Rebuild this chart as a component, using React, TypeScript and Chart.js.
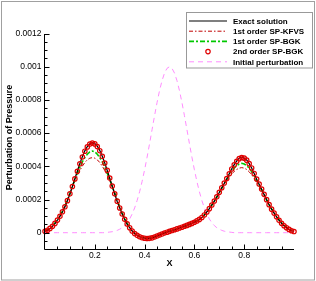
import React, { useEffect, useRef } from "react";
import { Chart, registerables } from "chart.js";

Chart.register(...registerables);

// values are given in units of 1e-4
const PRESSURE_UNIT = 1e-4;
const xPositions = Array.from({ length: 101 }, (_, i) => i / 100);

const exactSolution = [
  0.08, 0.15, 0.25, 0.38, 0.55, 0.75, 0.98, 1.25, 1.55, 1.92,
  2.33, 2.78, 3.25, 3.72, 4.17, 4.58, 4.93, 5.19, 5.36, 5.42,
  5.37, 5.21, 4.95, 4.61, 4.2, 3.75, 3.28, 2.8, 2.33, 1.88,
  1.48, 1.12, 0.8, 0.52, 0.3, 0.1, -0.05, -0.15, -0.24, -0.3,
  -0.33, -0.34, -0.34, -0.31, -0.26, -0.2, -0.14, -0.08, -0.02, 0.03,
  0.08, 0.13, 0.18, 0.23, 0.28, 0.33, 0.38, 0.44, 0.5, 0.56,
  0.63, 0.7, 0.8, 0.92, 1.07, 1.25, 1.45, 1.67, 1.9, 2.15,
  2.42, 2.7, 2.98, 3.25, 3.55, 3.85, 4.1, 4.32, 4.48, 4.55,
  4.5, 4.38, 4.16, 3.9, 3.56, 3.22, 2.92, 2.62, 2.3, 1.98,
  1.68, 1.42, 1.18, 0.95, 0.75, 0.57, 0.42, 0.3, 0.2, 0.12,
  0.07,
];

const kfvsFirstOrder = [
  0.1, 0.18, 0.28, 0.42, 0.6, 0.8, 1.04, 1.32, 1.63, 1.98,
  2.36, 2.76, 3.12, 3.45, 3.75, 4.01, 4.23, 4.39, 4.49, 4.52,
  4.49, 4.39, 4.23, 4.01, 3.75, 3.45, 3.12, 2.78, 2.4, 2.0,
  1.6, 1.22, 0.88, 0.58, 0.34, 0.14, -0.02, -0.13, -0.21, -0.27,
  -0.3, -0.31, -0.31, -0.29, -0.25, -0.2, -0.14, -0.08, -0.02, 0.03,
  0.08, 0.13, 0.18, 0.23, 0.28, 0.33, 0.38, 0.44, 0.5, 0.56,
  0.63, 0.71, 0.81, 0.93, 1.08, 1.25, 1.45, 1.67, 1.9, 2.15,
  2.42, 2.68, 2.93, 3.16, 3.36, 3.54, 3.69, 3.81, 3.89, 3.92,
  3.89, 3.81, 3.67, 3.49, 3.28, 3.05, 2.8, 2.54, 2.26, 1.97,
  1.69, 1.43, 1.2, 0.98, 0.78, 0.6, 0.45, 0.33, 0.23, 0.15,
  0.09,
];

const bgkFirstOrder = [
  0.09, 0.17, 0.27, 0.4, 0.58, 0.78, 1.01, 1.29, 1.6, 1.96,
  2.36, 2.8, 3.2, 3.6, 3.95, 4.27, 4.53, 4.73, 4.87, 4.92,
  4.87, 4.73, 4.53, 4.27, 3.95, 3.6, 3.2, 2.8, 2.37, 1.94,
  1.54, 1.17, 0.84, 0.55, 0.32, 0.12, -0.03, -0.14, -0.22, -0.28,
  -0.31, -0.32, -0.32, -0.3, -0.25, -0.2, -0.14, -0.08, -0.02, 0.03,
  0.08, 0.13, 0.18, 0.23, 0.28, 0.33, 0.38, 0.44, 0.5, 0.56,
  0.63, 0.7, 0.8, 0.92, 1.07, 1.25, 1.45, 1.67, 1.9, 2.15,
  2.42, 2.69, 2.96, 3.22, 3.47, 3.7, 3.9, 4.05, 4.14, 4.18,
  4.14, 4.05, 3.89, 3.68, 3.44, 3.16, 2.88, 2.59, 2.29, 1.98,
  1.69, 1.43, 1.19, 0.97, 0.77, 0.59, 0.44, 0.32, 0.21, 0.13,
  0.08,
];

const bgkSecondOrder = [
  0.08, 0.15, 0.26, 0.39, 0.56, 0.76, 0.99, 1.26, 1.56, 1.93,
  2.34, 2.78, 3.24, 3.7, 4.15, 4.56, 4.91, 5.17, 5.34, 5.4,
  5.35, 5.19, 4.94, 4.6, 4.2, 3.76, 3.29, 2.81, 2.34, 1.9,
  1.49, 1.13, 0.81, 0.53, 0.3, 0.1, -0.05, -0.16, -0.24, -0.3,
  -0.33, -0.35, -0.34, -0.31, -0.26, -0.2, -0.14, -0.08, -0.02, 0.03,
  0.08, 0.13, 0.18, 0.23, 0.28, 0.33, 0.39, 0.44, 0.5, 0.56,
  0.63, 0.71, 0.8, 0.92, 1.07, 1.25, 1.45, 1.67, 1.91, 2.16,
  2.43, 2.71, 2.99, 3.26, 3.55, 3.84, 4.09, 4.3, 4.46, 4.53,
  4.49, 4.37, 4.16, 3.9, 3.57, 3.23, 2.93, 2.63, 2.31, 1.99,
  1.69, 1.42, 1.18, 0.96, 0.75, 0.57, 0.42, 0.3, 0.2, 0.12,
  0.07,
];

const initialPerturbation = [
  0, 0, 0, 0, 0, 0, 0, 0, 0, 0,
  0, 0, 0, 0, 0, 0, 0, 0, 0, 0,
  0, 0, 0, 0, 0, 0.02, 0.04, 0.06, 0.09, 0.14,
  0.21, 0.3, 0.43, 0.6, 0.83, 1.13, 1.49, 1.94, 2.47, 3.09,
  3.79, 4.55, 5.37, 6.21, 7.05, 7.84, 8.56, 9.16, 9.62, 9.9,
  10.0, 9.9, 9.62, 9.16, 8.56, 7.84, 7.05, 6.21, 5.37, 4.55,
  3.79, 3.09, 2.47, 1.94, 1.49, 1.13, 0.83, 0.6, 0.43, 0.3,
  0.21, 0.14, 0.09, 0.06, 0.04, 0.02, 0, 0, 0, 0,
  0, 0, 0, 0, 0, 0, 0, 0, 0, 0,
  0, 0, 0, 0, 0, 0, 0, 0, 0, 0,
  0,
];

const seriesLabels = [
  "Exact solution",
  "1st order SP-KFVS",
  "1st order SP-BGK",
  "2nd order SP-BGK",
  "Initial perturbation",
];

const xTickValues = [0.2, 0.4, 0.6, 0.8];
const xTickLabels = ["0.2", "0.4", "0.6", "0.8"];
const yTickValues = [0, 0.0002, 0.0004, 0.0006, 0.0008, 0.001, 0.0012];
const yTickLabels = ["0", "0.0002", "0.0004", "0.0006", "0.0008", "0.001", "0.0012"];
const xTitle = "X";
const yTitle = "Perturbation of Pressure";

const FONT = "'Liberation Sans', Arial, Helvetica, sans-serif";

const toPoints = (vals: number[]) =>
  vals.map((v, i) => ({ x: xPositions[i], y: v * PRESSURE_UNIT }));

const decorPlugin = {
  id: "decor",
  beforeDraw(chart: any) {
    const ctx = chart.ctx;
    ctx.save();
    ctx.fillStyle = "#ffffff";
    ctx.fillRect(0, 0, chart.width, chart.height);
    ctx.strokeStyle = "#a0a0a0";
    ctx.lineWidth = 1;
    ctx.strokeRect(1.5, 1.5, chart.width - 3, chart.height - 2.5);
    ctx.restore();
  },
  afterDraw(chart: any) {
    const { ctx, chartArea: ca, scales } = chart;
    const xs = scales.x;
    const ys = scales.y;
    ctx.save();
    // axes
    ctx.strokeStyle = "#000";
    ctx.lineWidth = 1;
    const ax = Math.floor(ca.left) - 0.5;
    const ay = Math.floor(ca.bottom) + 0.5;
    ctx.beginPath();
    ctx.moveTo(ax, Math.round(ca.top));
    ctx.lineTo(ax, ay);
    ctx.lineTo(Math.round(ca.right), ay);
    ctx.stroke();
    // ticks
    ctx.beginPath();
    for (const v of yTickValues) {
      const py = Math.round(ys.getPixelForValue(v)) + 0.5;
      ctx.moveTo(ax, py);
      ctx.lineTo(ax + 5, py);
    }
    for (let k = -1; k <= 23; k++) {
      if (k % 4 === 0) continue;
      const py = Math.round(ys.getPixelForValue(k * 0.00005)) + 0.5;
      ctx.moveTo(ax, py);
      ctx.lineTo(ax + 3, py);
    }
    for (const v of xTickValues) {
      const px = Math.round(xs.getPixelForValue(v)) + 0.5;
      ctx.moveTo(px, ay);
      ctx.lineTo(px, ay - 5);
    }
    for (let k = 1; k <= 19; k++) {
      if (k % 4 === 0) continue;
      const px = Math.round(xs.getPixelForValue(k * 0.05)) + 0.5;
      ctx.moveTo(px, ay);
      ctx.lineTo(px, ay - 3);
    }
    ctx.stroke();

    // y title
    ctx.save();
    ctx.translate(9.7, 137.5);
    ctx.rotate(-Math.PI / 2);
    ctx.fillStyle = "#000";
    ctx.font = `bold 9px ${FONT}`;
    ctx.textAlign = "center";
    ctx.textBaseline = "middle";
    ctx.fillText(yTitle, 0, 0);
    ctx.restore();

    // legend
    const lx = 186.5, ly = 12.5, lw = 126, lh = 55.5;
    ctx.fillStyle = "#fff";
    ctx.fillRect(lx, ly, lw, lh);
    ctx.strokeStyle = "#999";
    ctx.lineWidth = 1;
    ctx.setLineDash([]);
    ctx.strokeRect(lx, ly, lw, lh);
    chart.data.datasets.forEach((ds: any, i: number) => {
      const y = 21 + i * 10.2;
      ctx.save();
      if (ds.showLine === false) {
        ctx.beginPath();
        ctx.strokeStyle = ds.pointBorderColor;
        ctx.lineWidth = ds.pointBorderWidth;
        ctx.arc(208, y, ds.pointRadius, 0, Math.PI * 2);
        ctx.stroke();
      } else {
        ctx.beginPath();
        ctx.strokeStyle = ds.borderColor;
        ctx.lineWidth = ds.borderWidth;
        ctx.setLineDash(ds.borderDash || []);
        ctx.moveTo(189, y);
        ctx.lineTo(227, y);
        ctx.stroke();
      }
      ctx.restore();
      ctx.fillStyle = "#000";
      ctx.font = `bold 8px ${FONT}`;
      ctx.textAlign = "left";
      ctx.textBaseline = "middle";
      ctx.fillText(ds.label, 233, y + 0.5);
    });
    ctx.restore();
  },
};

export default function App() {
  const canvasRef = useRef<HTMLCanvasElement | null>(null);

  useEffect(() => {
    document.body.style.margin = "0";
    const canvas = canvasRef.current;
    if (!canvas) return;
    const chart = new Chart(canvas, {
      type: "line",
      data: {
        datasets: [
          {
            label: seriesLabels[0],
            data: toPoints(exactSolution),
            borderColor: "#000000",
            borderWidth: 1.2,
            pointRadius: 0,
            tension: 0,
            order: 1,
          },
          {
            label: seriesLabels[1],
            data: toPoints(kfvsFirstOrder),
            borderColor: "#c00000",
            borderWidth: 1,
            borderDash: [4, 2, 1.5, 2],
            pointRadius: 0,
            tension: 0,
            order: 3,
          },
          {
            label: seriesLabels[2],
            data: toPoints(bgkFirstOrder),
            borderColor: "#00c800",
            borderWidth: 1.6,
            borderDash: [5, 2, 2, 2],
            pointRadius: 0,
            tension: 0,
            order: 2,
          },
          {
            label: seriesLabels[3],
            data: toPoints(bgkSecondOrder),
            showLine: false,
            borderColor: "#e00000",
            backgroundColor: "rgba(0,0,0,0)",
            pointRadius: 2.2,
            pointBorderWidth: 1.2,
            pointBorderColor: "#e00000",
            pointBackgroundColor: "rgba(0,0,0,0)",
            clip: false,
            order: 0,
          },
          {
            label: seriesLabels[4],
            data: toPoints(initialPerturbation),
            borderColor: "#ff8cff",
            borderWidth: 1,
            borderDash: [5, 4],
            pointRadius: 0,
            tension: 0,
            order: 4,
          },
        ] as any,
      },
      options: {
        responsive: false,
        animation: false,
        devicePixelRatio: 1,
        layout: { padding: { top: 33.5, right: 22, left: 0, bottom: 0 } },
        plugins: {
          legend: { display: false },
          tooltip: { enabled: false },
        },
        scales: {
          x: {
            type: "linear",
            min: 0,
            max: 1,
            grid: { display: false, drawTicks: false },
            border: { display: false },
            afterBuildTicks: (scale: any) => {
              scale.ticks = xTickValues.map((v) => ({ value: v }));
            },
            afterFit: (scale: any) => {
              scale.height = 31.7;
            },
            ticks: {
              autoSkip: false,
              maxRotation: 0,
              padding: 1,
              color: "#000",
              font: { family: FONT, size: 8.5 },
              callback: (_v: any, i: number) => xTickLabels[i],
            },
            title: {
              display: true,
              text: xTitle,
              color: "#000",
              font: { family: FONT, size: 9, weight: "bold" },
              padding: { top: 0, bottom: 12.3 },
            },
          },
          y: {
            type: "linear",
            min: -0.0001,
            max: 0.0012,
            grid: { display: false, drawTicks: false },
            border: { display: false },
            afterBuildTicks: (scale: any) => {
              scale.ticks = yTickValues.map((v) => ({ value: v }));
            },
            afterFit: (scale: any) => {
              scale.width = 45;
            },
            ticks: {
              autoSkip: false,
              padding: 3.5,
              color: "#000",
              font: { family: FONT, size: 8.5 },
              callback: (_v: any, i: number) => yTickLabels[i],
            },
          },
        },
      } as any,
      plugins: [decorPlugin],
    });
    return () => chart.destroy();
  }, []);

  return (
    <div style={{ width: 316, height: 281 }}>
      <canvas ref={canvasRef} width={316} height={281} />
    </div>
  );
}
